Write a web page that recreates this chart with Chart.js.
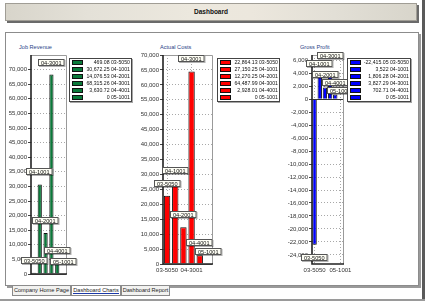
<!DOCTYPE html>
<html><head><meta charset="utf-8">
<script src="https://cdn.jsdelivr.net/npm/chart.js@4.4.0/dist/chart.umd.min.js"></script>
<style>
html,body{margin:0;padding:0;width:430px;height:305px;overflow:hidden;background:#fff;font-family:'Liberation Sans',Arial,sans-serif;}
#header{position:absolute;left:5px;top:3px;width:410px;height:16px;background:linear-gradient(to right,#d8d5cb,#e4e1d8 20%,#ece8de 45%,#ece7dd 60%,#e2dfd6 80%,#d8d5cb);border:1px solid #a09d95;box-shadow:2px 2px 0 #6a6a6a;font-weight:bold;font-size:6.5px;text-align:center;line-height:16px;color:#111;}
#rbar{position:absolute;left:422px;top:0;width:3px;height:299px;background:#5a5a5a;}
#panel{position:absolute;left:5px;top:32px;width:412px;height:252px;border:1px solid #8c8c8c;background:#fff;box-shadow:2px 2px 0 #9a9a9a;}
#bottomline{position:absolute;left:0;top:299px;width:425px;height:2px;background:#9a9a9a;}
.tab{position:absolute;top:286px;height:9px;font-size:5.6px;line-height:9px;text-align:center;color:#222;background:#f2f2f0;border:1px solid #8a8a8a;border-top:none;}
.tab.active{background:#fff;}
.tab.active span{border-bottom:1.5px solid #1c3aa8;}
.title{position:absolute;font-size:5.6px;color:#2a3f86;white-space:nowrap;}
canvas{position:absolute;}
</style></head>
<body>
<div id="header">Dashboard</div>
<div id="rbar"></div>
<div id="panel"></div>
<div class="tab" style="left:12px;width:57px;">Company Home Page</div>
<div class="tab active" style="left:71px;width:48px;"><span>Dashboard Charts</span></div>
<div class="tab" style="left:121px;width:47px;">Dashboard Report</div>
<div id="bottomline"></div>
<div class="title" style="left:19px;top:44px;">Job Revenue</div>
<div class="title" style="left:160px;top:44px;">Actual Costs</div>
<div class="title" style="left:300px;top:44px;">Gross Profit</div>
<canvas id="c1" width="138" height="245" style="left:0;top:40px;width:138px;height:245px;"></canvas>
<canvas id="c2" width="142" height="245" style="left:138px;top:40px;width:142px;height:245px;"></canvas>
<canvas id="c3" width="134" height="245" style="left:282px;top:40px;width:134px;height:245px;"></canvas>
<script>
// ---- data ----
const jobs = ['03-5050','04-1001','04-2001','04-3001','04-4001','05-1001'];
const revenue = [469.08, 30672.25, 14076.53, 68315.26, 3630.72, 0];
const costs = [22864.13, 27150.25, 12270.25, 64487.99, 2928.01, 0];
const profit = [-22415.05, 3522, 1806.28, 3827.29, 702.71, 0];
const revenueTicks = [0,5000,10000,15000,20000,25000,30000,35000,40000,45000,50000,55000,60000,65000,70000];
const costTicks = [0,5000,10000,15000,20000,25000,30000,35000,40000,45000,50000,55000,60000,65000,70000];
const profitTicks = [-24000,-22000,-20000,-18000,-16000,-14000,-12000,-10000,-8000,-6000,-4000,-2000,0,2000,4000,6000];
const revenueRange = [0, 75000];
const costRange = [0, 70000];
const profitRange = [-25400, 6800];
const revenueXLabels = [];
const costXLabels = [0, 3];
const profitXLabels = [0, 5];

const FONT = "'Liberation Sans', Arial, sans-serif";
const fmt = v => v.toLocaleString('en-US', {maximumFractionDigits: 2});

const framePlugin = {
  id: 'frame',
  afterDatasetsDraw(chart) {
    const {ctx, chartArea: a} = chart;
    ctx.save();
    ctx.strokeStyle = '#9a9a9a'; ctx.lineWidth = 1;
    ctx.beginPath();
    ctx.moveTo(a.left, a.top + 0.5); ctx.lineTo(a.right + 0.5, a.top + 0.5); ctx.lineTo(a.right + 0.5, a.bottom);
    ctx.stroke();
    ctx.strokeStyle = '#222'; ctx.lineWidth = 1.6;
    ctx.beginPath();
    ctx.moveTo(a.left, a.top); ctx.lineTo(a.left, a.bottom); ctx.lineTo(a.right + 1, a.bottom);
    ctx.stroke();
    const y0 = chart.scales.y.getPixelForValue(0);
    ctx.lineWidth = 1; ctx.strokeStyle = '#333';
    ctx.beginPath(); ctx.moveTo(a.left, Math.round(y0) + 0.5); ctx.lineTo(a.right, Math.round(y0) + 0.5); ctx.stroke();
    ctx.restore();
  }
};

const boxLabelPlugin = {
  id: 'boxLabels',
  afterDatasetsDraw(chart) {
    const ctx = chart.ctx, meta = chart.getDatasetMeta(0), labels = chart.data.labels, data = chart.data.datasets[0].data;
    const H = 7, GAP = 9;
    ctx.save();
    ctx.font = '5.6px ' + FONT;
    const placed = [];
    meta.data.forEach((el, i) => {
      const v = data[i];
      const w = ctx.measureText(labels[i]).width + 6;
      const x0 = Math.round(el.x - w / 2);
      const overl = t => placed.find(b => x0 < b.x + b.w && x0 + w > b.x && t < b.y + b.h && t + H > b.y);
      let top = v >= 0 ? el.y - GAP - H : el.y + GAP;
      const b = overl(top);
      if (b && v >= 0) {
        const below = b.y + b.h + 1;
        if (!overl(below) && below + H <= el.y - 2) top = below;
        else { top = b.y - H - 1; let c; while ((c = overl(top))) top = c.y - H - 1; }
      }
      top = Math.round(top);
      placed.push({x: x0, y: top, w, h: H});
      ctx.fillStyle = 'rgba(0,0,0,0.3)'; ctx.fillRect(x0 + 1, top + 1, w, H);
      ctx.fillStyle = '#fffff6'; ctx.fillRect(x0, top, w, H);
      ctx.strokeStyle = '#555'; ctx.lineWidth = 1; ctx.strokeRect(x0 + 0.5, top + 0.5, w - 1, H - 1);
      ctx.fillStyle = '#111'; ctx.textAlign = 'center'; ctx.textBaseline = 'middle';
      ctx.fillText(labels[i], x0 + w / 2, top + H / 2 + 0.5);
    });
    ctx.restore();
  }
};

const legendPlugin = {
  id: 'boxLegend',
  afterDraw(chart, args, opts) {
    const ctx = chart.ctx, a = chart.chartArea, labels = chart.data.labels, ds = chart.data.datasets[0];
    ctx.save();
    ctx.font = '5.2px ' + FONT;
    const texts = labels.map((l, i) => fmt(ds.data[i]) + ' ' + l);
    const tw = Math.max(...texts.map(t => ctx.measureText(t).width));
    const x = Math.round(a.right + opts.gap), y = opts.top, rowH = 7;
    const w = Math.round(tw + 19), h = rowH * labels.length + 2;
    ctx.fillStyle = 'rgba(0,0,0,0.35)'; ctx.fillRect(x + 1, y + 1, w, h);
    ctx.fillStyle = '#fff'; ctx.fillRect(x, y, w, h);
    ctx.strokeStyle = '#444'; ctx.lineWidth = 1; ctx.strokeRect(x + 0.5, y + 0.5, w - 1, h - 1);
    texts.forEach((t, i) => {
      const ry = y + 1 + i * rowH;
      ctx.fillStyle = ds.backgroundColor; ctx.fillRect(x + 3, ry + 1, 11, 5);
      ctx.strokeStyle = '#111'; ctx.strokeRect(x + 3.5, ry + 1.5, 10, 4);
      ctx.fillStyle = '#111'; ctx.textAlign = 'right'; ctx.textBaseline = 'middle';
      ctx.fillText(t, x + w - 2, ry + 4);
    });
    ctx.restore();
  }
};

function makeChart(id, values, color, range, ticks, xIdx, lay) {
  return new Chart(document.getElementById(id), {
    type: 'bar',
    data: { labels: jobs, datasets: [{ data: values, backgroundColor: color, borderColor: '#111', borderWidth: 1,
      barPercentage: lay.bar, categoryPercentage: 1 }] },
    plugins: [framePlugin, boxLabelPlugin, legendPlugin],
    options: {
      responsive: false, animation: false, devicePixelRatio: 1,
      layout: { autoPadding: false, padding: { left: 0, right: lay.right, top: 15, bottom: 11 } },
      plugins: { legend: { display: false }, tooltip: { enabled: false }, title: { display: false },
        boxLegend: { gap: lay.legGap, top: 18 } },
      scales: {
        x: {
          afterFit: s => { s.height = lay.xh; },
          grid: { offset: false, drawTicks: false, lineWidth: 1,
            color: c => xIdx.includes(c.index) ? '#a8a8a8' : 'rgba(0,0,0,0)' },
          border: { display: false, dash: [1, 2] },
          ticks: { display: lay.xh > 0, autoSkip: false, maxRotation: 0, padding: 3,
            font: { size: 6, family: FONT }, color: '#333',
            callback: (v, i) => xIdx.includes(i) ? jobs[i] : '' }
        },
        y: {
          min: range[0], max: range[1],
          afterBuildTicks: s => { s.ticks = ticks.map(v => ({ value: v })); },
          afterFit: s => { s.width = lay.yw; },
          grid: { color: '#a8a8a8', lineWidth: 1, tickLength: 3, tickColor: '#444', tickBorderDash: [], tickWidth: 1 },
          border: { display: false, dash: [1, 2] },
          ticks: { padding: 1, font: { size: 6, family: FONT }, color: '#333', callback: v => v.toLocaleString('en-US') }
        }
      }
    }
  });
}

makeChart('c1', revenue, '#0a7a3a', revenueRange, revenueTicks, revenueXLabels, { right: 72, yw: 31, xh: 0, bar: 0.72, legGap: 3 });
makeChart('c2', costs, '#ff0000', costRange, costTicks, costXLabels, { right: 68, yw: 25, xh: 10, bar: 0.78, legGap: 5 });
makeChart('c3', profit, '#0000ff', profitRange, profitTicks, profitXLabels, { right: 73, yw: 30, xh: 10, bar: 0.85, legGap: 4 });
</script>
</body></html>
